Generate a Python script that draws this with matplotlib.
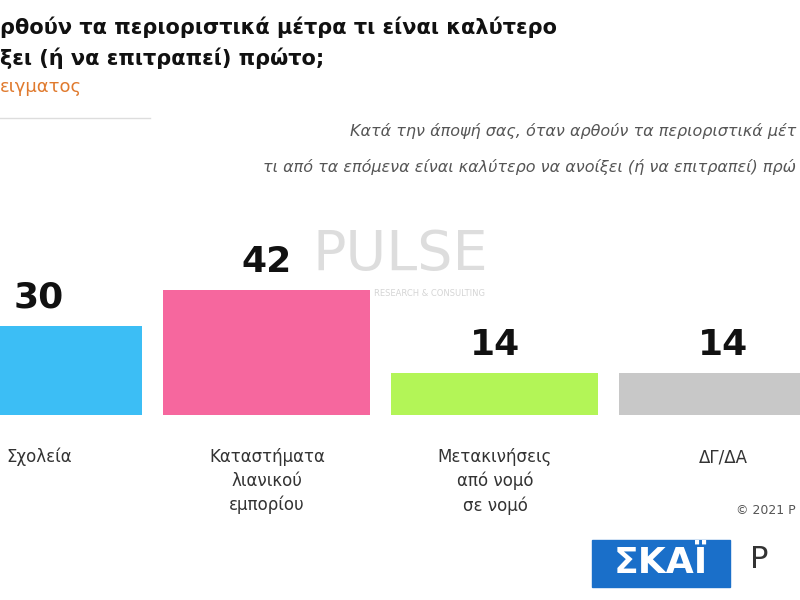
import matplotlib.pyplot as plt
from matplotlib.patches import Rectangle

# data
categories = ["Σχολεία", "Καταστήματα\nλιανικού\nεμπορίου", "Μετακινήσεις\nαπό νομό\nσε νομό", "ΔΓ/ΔΑ"]
values = [30, 42, 14, 14]
colors = ["#3cbef5", "#f6679e", "#b3f557", "#c8c8c8"]

fig = plt.figure(figsize=(8, 6), dpi=100)
fig.patch.set_facecolor("white")

# bar axes: baseline at 415 px from top
ax = fig.add_axes([0, 1 - 415 / 600, 1, 180 / 600])
x = list(range(len(values)))
ax.bar(x, values, width=0.908, color=colors)
ax.set_xlim(-0.171, 3.338)
ax.set_ylim(0, 180 / 125 * 42)
ax.axis("off")
for xi, v in zip(x, values):
    ax.annotate(str(v), (xi, v), xytext=(0, 8), textcoords="offset points",
                ha="center", va="bottom", fontsize=26, fontweight="bold", color="#111111")

# category labels
for xi, c in zip(x, categories):
    px = (xi + 0.171) / 3.509
    fig.text(px, 1 - 448 / 600, c, ha="center", va="top", fontsize=12,
             color="#333333", linespacing=1.4)

# title and subtitle (cropped in the source image)
fig.text(0.0, 1 - 27 / 600, "ρθούν τα περιοριστικά μέτρα τι είναι καλύτερο", ha="left", va="center",
         fontsize=15, fontweight="bold", color="#111111")
fig.text(0.0, 1 - 58 / 600, "ξει (ή να επιτραπεί) πρώτο;", ha="left", va="center",
         fontsize=15, fontweight="bold", color="#111111")
fig.text(0.0, 1 - 87 / 600, "ειγματος", ha="left", va="center", fontsize=13, color="#e07a2e")
fig.add_artist(plt.Line2D([0, 150 / 800], [1 - 118 / 600] * 2, color="#dddddd", lw=1))
fig.text(0.995, 1 - 131 / 600, "Κατά την άποψή σας, όταν αρθούν τα περιοριστικά μέτ",
         ha="right", va="center", fontsize=11.5, style="italic", color="#555555")
fig.text(0.995, 1 - 167 / 600, "τι από τα επόμενα είναι καλύτερο να ανοίξει (ή να επιτραπεί) πρώ",
         ha="right", va="center", fontsize=11.5, style="italic", color="#555555")

# watermark
fig.text(400 / 800, 1 - 255 / 600, "PULSE", ha="center", va="center", fontsize=40,
         color="#d5d5d5", alpha=0.8)
fig.text(430 / 800, 1 - 293 / 600, "RESEARCH & CONSULTING", ha="center", va="center",
         fontsize=6, color="#d5d5d5")

# footer
fig.text(0.995, 1 - 510 / 600, "© 2021 P", ha="right", va="center", fontsize=9, color="#555555")
fig.add_artist(Rectangle((592 / 800, 1 - 587 / 600), 138 / 800, 47 / 600,
                         transform=fig.transFigure, color="#1a6fc9"))
fig.text(661 / 800, 1 - 563 / 600, "ΣΚΑΪ", ha="center", va="center", fontsize=26,
         color="white", fontweight="bold")
fig.text(750 / 800, 1 - 560 / 600, "P", ha="left", va="center", fontsize=22, color="#333333")

fig.savefig("out.png", dpi=100)
